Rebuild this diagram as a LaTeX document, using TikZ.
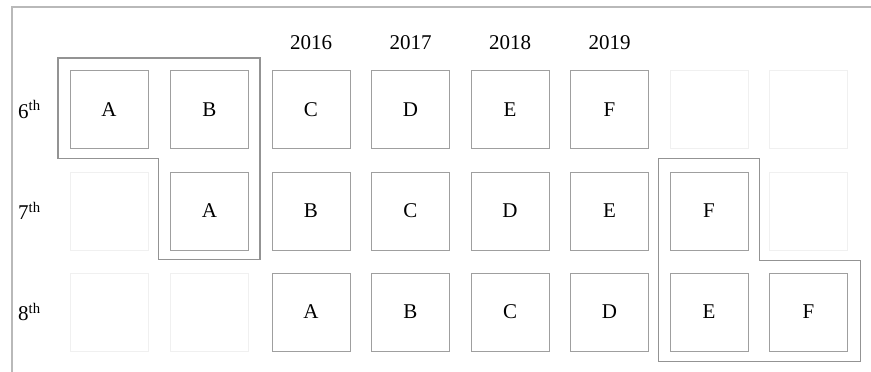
\documentclass[tikz,border=0pt]{standalone}
\usepackage{fontspec}
\setmainfont{Liberation Serif}
\begin{document}
\begin{tikzpicture}[x=1pt,y=1pt,
  cell/.style={draw=gray!75, line width=0.9pt, minimum width=78pt, minimum height=78pt, inner sep=0pt, font=\fontsize{21}{24}\selectfont},
  ghost/.style={draw=gray!12, line width=0.9pt, minimum width=78pt, minimum height=78pt, inner sep=0pt},
  lab/.style={font=\fontsize{21}{24}\selectfont, inner sep=0pt},
  group/.style={draw=gray!85, line width=1.2pt},
  frame/.style={draw=gray!55, line width=1.2pt}]
\useasboundingbox (0,0) rectangle (871,-372);
\draw[frame] (12,-372) -- (12,-7) -- (871,-7);
% column centres
\def\ca{109}\def\cb{209.5}\def\cc{311}\def\cd{410.5}\def\ce{510}\def\cf{609.5}\def\cg{709}\def\ch{808.5}
\def\ra{-109.5}\def\rb{-211}\def\rc{-312}
% years
\node[lab] (y16) at (\cc,-43) {2016};
\node[lab] (y17) at (\cd,-43) {2017};
\node[lab] (y18) at (\ce,-43) {2018};
\node[lab] (y19) at (\cf,-43) {2019};
% row labels
\node[lab, anchor=west] (g6) at (18,\ra) {6\textsuperscript{th}};
\node[lab, anchor=west] (g7) at (18,\rb) {7\textsuperscript{th}};
\node[lab, anchor=west] (g8) at (18,\rc) {8\textsuperscript{th}};
% row 6
\node[cell] (a1) at (\ca,\ra) {A};
\node[cell] (a2) at (\cb,\ra) {B};
\node[cell] (a3) at (\cc,\ra) {C};
\node[cell] (a4) at (\cd,\ra) {D};
\node[cell] (a5) at (\ce,\ra) {E};
\node[cell] (a6) at (\cf,\ra) {F};
\node[ghost] (a7) at (\cg,\ra) {};
\node[ghost] (a8) at (\ch,\ra) {};
% row 7
\node[ghost] (b1) at (\ca,\rb) {};
\node[cell] (b2) at (\cb,\rb) {A};
\node[cell] (b3) at (\cc,\rb) {B};
\node[cell] (b4) at (\cd,\rb) {C};
\node[cell] (b5) at (\ce,\rb) {D};
\node[cell] (b6) at (\cf,\rb) {E};
\node[cell] (b7) at (\cg,\rb) {F};
\node[ghost] (b8) at (\ch,\rb) {};
% row 8
\node[ghost] (c1) at (\ca,\rc) {};
\node[ghost] (c2) at (\cb,\rc) {};
\node[cell] (c3) at (\cc,\rc) {A};
\node[cell] (c4) at (\cd,\rc) {B};
\node[cell] (c5) at (\ce,\rc) {C};
\node[cell] (c6) at (\cf,\rc) {D};
\node[cell] (c7) at (\cg,\rc) {E};
\node[cell] (c8) at (\ch,\rc) {F};
% group outlines
\draw[group] (58,-58) -- (260,-58) -- (260,-259.5) -- (158.5,-259.5) -- (158.5,-158.5) -- (58,-158.5) -- cycle;
\draw[group] (658.5,-158.5) -- (759.5,-158.5) -- (759.5,-260.5) -- (860.5,-260.5) -- (860.5,-361.5) -- (658.5,-361.5) -- cycle;
\end{tikzpicture}
\end{document}
